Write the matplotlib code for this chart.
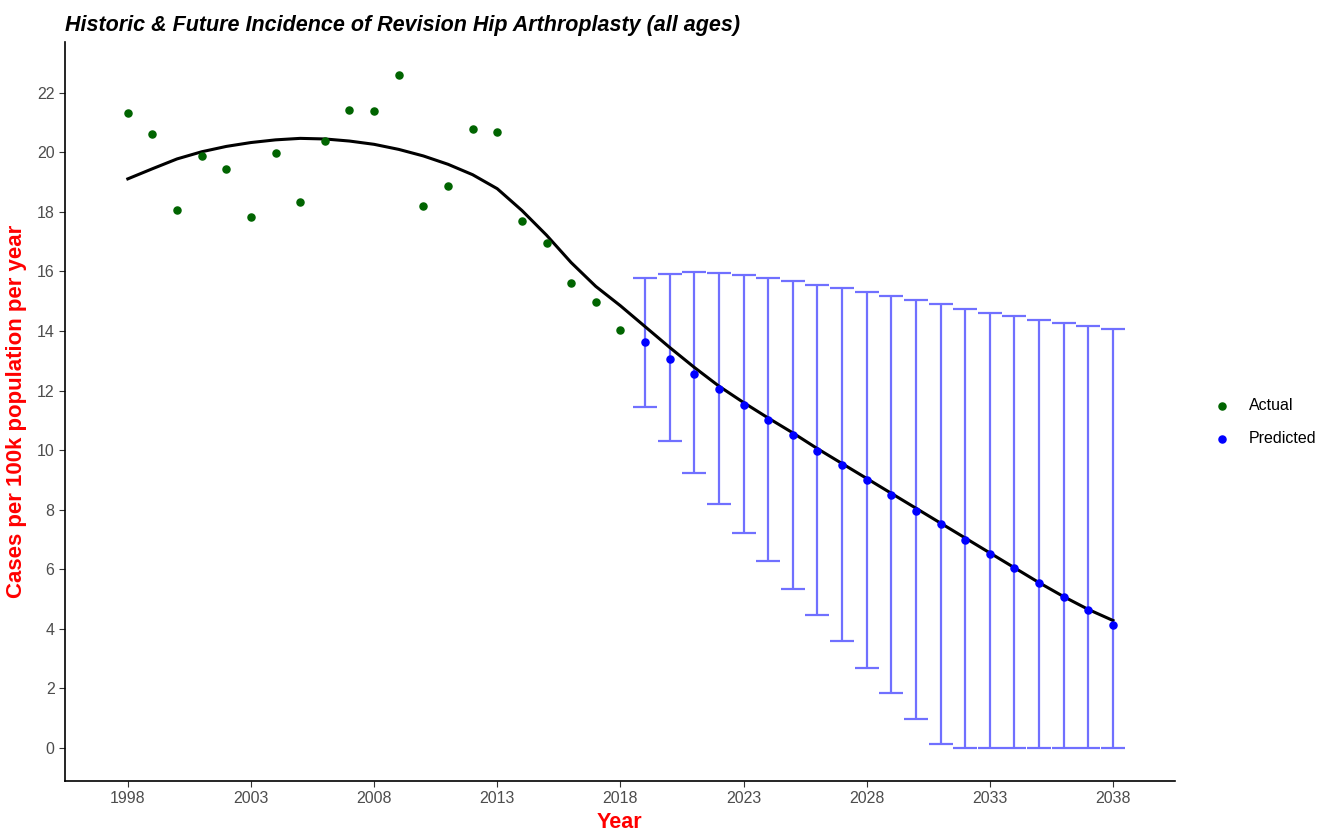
import numpy as np
import matplotlib.pyplot as plt

plt.rcParams['font.family'] = ['Liberation Sans', 'DejaVu Sans']

# Observed incidence (cases per 100k per year).
actual_years = list(range(1998, 2019))
actual_vals = [21.33, 20.62, 18.07, 19.89, 19.45, 17.84, 19.99, 18.34, 20.39, 21.43,
               21.40, 22.61, 18.21, 18.88, 20.79, 20.69, 17.70, 16.96, 15.62, 14.98, 14.04]

# Forecast with interval.
pred_years = list(range(2019, 2039))
pred_vals = [13.64, 13.07, 12.56, 12.06, 11.52, 11.02, 10.51, 9.98, 9.51, 9.00,
             8.50, 7.96, 7.52, 6.99, 6.52, 6.05, 5.54, 5.07, 4.64, 4.13]
pred_upper = [15.79, 15.92, 15.99, 15.96, 15.89, 15.79, 15.69, 15.55, 15.45, 15.32,
              15.18, 15.05, 14.91, 14.75, 14.61, 14.51, 14.38, 14.28, 14.18, 14.07]
pred_lower = [11.45, 10.31, 9.24, 8.20, 7.22, 6.28, 5.34, 4.47, 3.59, 2.69,
              1.85, 0.97, 0.13, 0.0, 0.0, 0.0, 0.0, 0.0, 0.0, 0.0]

# Smoothed trend line.
trend_years = list(range(1998, 2039))
trend_vals = [19.11, 19.45, 19.78, 20.02, 20.20, 20.33, 20.42, 20.47, 20.45, 20.38,
              20.27, 20.10, 19.88, 19.60, 19.25, 18.78, 18.05, 17.22, 16.30, 15.50,
              14.85, 14.15, 13.45, 12.78, 12.15, 11.60, 11.08, 10.58, 10.05, 9.55,
              9.05, 8.55, 8.05, 7.55, 7.05, 6.55, 6.05, 5.55, 5.08, 4.65, 4.28]

xticks = [1998, 2003, 2008, 2013, 2018, 2023, 2028, 2033, 2038]
yticks = list(range(0, 23, 2))

fig = plt.figure(figsize=(13.32, 8.32), dpi=100)
ax = fig.add_axes([0.0488, 0.0613, 0.833, 0.888])

pv = np.array(pred_vals)
err = [pv - np.array(pred_lower), np.array(pred_upper) - pv]
ax.errorbar(pred_years, pred_vals, yerr=err, fmt='none', ecolor='#7070ff',
            elinewidth=1.6, capsize=8.6, capthick=1.6, zorder=2)

ax.plot(trend_years, trend_vals, color='black', lw=2.2, zorder=3)

ax.scatter(actual_years, actual_vals, s=26, color='#006400', zorder=4, label='Actual')
ax.scatter(pred_years, pred_vals, s=26, color='#0000ff', zorder=4, label='Predicted')

ax.set_xlim(1995.45, 2040.5)
ax.set_ylim(-1.11, 23.7)
ax.set_xticks(xticks)
ax.set_yticks(yticks)
ax.tick_params(labelsize=11.5, labelcolor='#4d4d4d', length=4, color='#333333')
for s in ['top', 'right']:
    ax.spines[s].set_visible(False)
for s in ['left', 'bottom']:
    ax.spines[s].set_linewidth(1.2)

ax.set_xlabel('Year', color='red', fontsize=15.5, fontweight='bold', labelpad=4)
ax.set_ylabel('Cases per 100k population per year', color='red', fontsize=16,
              fontweight='bold', labelpad=7)
ax.set_title('Historic & Future Incidence of Revision Hip Arthroplasty (all ages)',
             loc='left', fontsize=15.5, fontweight='bold', style='italic', pad=8)

ax.legend(loc='center left', bbox_to_anchor=(1.015, 0.486), frameon=False,
          fontsize=11.5, handletextpad=0.7, labelspacing=1.1, markerscale=1.0)

plt.savefig('out.png', dpi=100)
